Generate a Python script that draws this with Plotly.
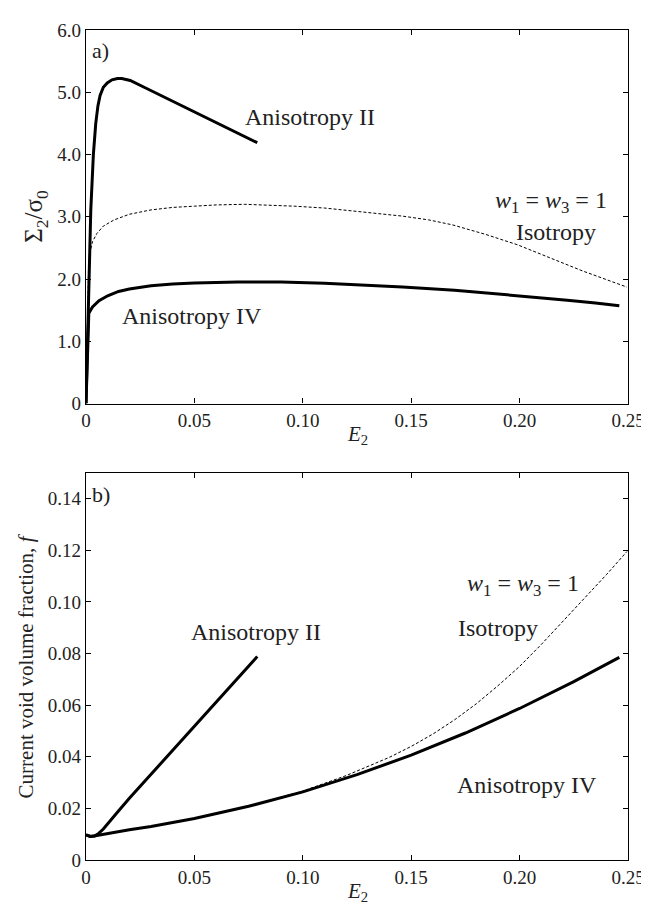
import plotly.graph_objects as go

# ---- a) normalised stress vs strain ----
e2_aniso2_a = [0, 0.0006, 0.0012, 0.0022, 0.0034, 0.0045, 0.0055, 0.0065, 0.008, 0.0098,
               0.012, 0.0145, 0.0165, 0.0204, 0.028, 0.0356, 0.0431, 0.0507, 0.0583,
               0.0658, 0.0734, 0.079]
s2_aniso2_a = [0, 1.0, 2.0, 3.1, 4.0, 4.5, 4.78, 4.95, 5.08, 5.15,
               5.2, 5.22, 5.22, 5.19, 5.06, 4.93, 4.80, 4.67, 4.54,
               4.41, 4.28, 4.19]

e2_iso_a = [0, 0.0007, 0.0012, 0.002, 0.003, 0.005, 0.008, 0.013, 0.02, 0.03, 0.04,
            0.05, 0.06, 0.073, 0.085, 0.096, 0.11, 0.125, 0.137, 0.146, 0.158, 0.169,
            0.184, 0.199, 0.214, 0.229, 0.2495]
s2_iso_a = [0, 1.7, 2.25, 2.45, 2.6, 2.73, 2.85, 2.95, 3.04, 3.11, 3.15,
            3.17, 3.19, 3.20, 3.19, 3.17, 3.14, 3.09, 3.05, 3.01, 2.95, 2.87,
            2.72, 2.55, 2.34, 2.13, 1.87]

e2_aniso4_a = [0, 0.0006, 0.0013, 0.003, 0.006, 0.01, 0.015, 0.02, 0.03, 0.04, 0.05,
               0.07, 0.09, 0.11, 0.13, 0.146, 0.17, 0.191, 0.208, 0.222, 0.235, 0.246]
s2_aniso4_a = [0, 0.8, 1.45, 1.55, 1.65, 1.73, 1.80, 1.84, 1.89, 1.92, 1.935,
               1.95, 1.95, 1.93, 1.90, 1.87, 1.82, 1.76, 1.71, 1.66, 1.615, 1.57]

# ---- b) void volume fraction vs strain ----
e2_aniso2_b = [0, 0.002, 0.004, 0.006, 0.008, 0.01, 0.014, 0.02, 0.03, 0.04, 0.05,
               0.06, 0.07, 0.079]
f_aniso2_b = [0.0097, 0.0091, 0.0093, 0.0104, 0.012, 0.0139, 0.018, 0.0239, 0.0332,
              0.0425, 0.0518, 0.0611, 0.0704, 0.0788]

e2_aniso4_b = [0, 0.002, 0.005, 0.01, 0.02, 0.03, 0.05, 0.075, 0.1, 0.125, 0.15,
               0.175, 0.2, 0.225, 0.246]
f_aniso4_b = [0.0097, 0.0091, 0.0095, 0.0103, 0.0117, 0.013, 0.0161, 0.0208, 0.0264,
              0.0331, 0.0406, 0.0492, 0.0587, 0.0691, 0.0785]

e2_iso_b = [0, 0.002, 0.005, 0.01, 0.02, 0.03, 0.05, 0.075, 0.1, 0.12, 0.14, 0.15,
            0.16, 0.17, 0.18, 0.19, 0.2, 0.21, 0.22, 0.23, 0.24, 0.2495]
f_iso_b = [0.0097, 0.0091, 0.0095, 0.0103, 0.0117, 0.013, 0.0161, 0.0208, 0.0267,
           0.0327, 0.0398, 0.044, 0.0488, 0.0543, 0.0605, 0.0675, 0.075, 0.0835,
           0.0925, 0.1015, 0.1105, 0.1195]

x_ticks = [0, 0.05, 0.10, 0.15, 0.20, 0.25]
x_labels = ["0", "0.05", "0.10", "0.15", "0.20", "0.25"]
ya_ticks = [0, 1, 2, 3, 4, 5, 6]
ya_labels = ["0", "1.0", "2.0", "3.0", "4.0", "5.0", "6.0"]
yb_ticks = [0, 0.02, 0.04, 0.06, 0.08, 0.10, 0.12, 0.14]
yb_labels = ["0", "0.02", "0.04", "0.06", "0.08", "0.10", "0.12", "0.14"]

FONT = "Liberation Serif"
solid = dict(color="black", width=3)
dashed = dict(color="black", width=1, dash="3px,2px")

fig = go.Figure()
fig.add_trace(go.Scatter(x=e2_aniso2_a, y=s2_aniso2_a, mode="lines", line=solid, xaxis="x", yaxis="y"))
fig.add_trace(go.Scatter(x=e2_iso_a, y=s2_iso_a, mode="lines", line=dashed, xaxis="x", yaxis="y"))
fig.add_trace(go.Scatter(x=e2_aniso4_a, y=s2_aniso4_a, mode="lines", line=solid, xaxis="x", yaxis="y"))
fig.add_trace(go.Scatter(x=e2_aniso2_b, y=f_aniso2_b, mode="lines", line=solid, xaxis="x2", yaxis="y2"))
fig.add_trace(go.Scatter(x=e2_iso_b, y=f_iso_b, mode="lines", line=dashed, xaxis="x2", yaxis="y2"))
fig.add_trace(go.Scatter(x=e2_aniso4_b, y=f_aniso4_b, mode="lines", line=solid, xaxis="x2", yaxis="y2"))

axis_common = dict(showgrid=False, zeroline=False, showline=True, linecolor="black",
                   linewidth=1.3, mirror="ticks", ticks="inside", ticklen=5,
                   tickcolor="black", tickfont=dict(family=FONT, size=19, color="#222"))

fig.update_layout(
    width=649, height=909,
    margin=dict(l=78, r=20, t=13, b=57),
    paper_bgcolor="white", plot_bgcolor="white",
    showlegend=False,
    xaxis=dict(axis_common, domain=[0, 1], range=[0, 0.25], tickvals=x_ticks, ticktext=x_labels, anchor="y"),
    yaxis=dict(axis_common, domain=[0.5500, 1], range=[0, 6], tickvals=ya_ticks, ticktext=ya_labels, anchor="x"),
    xaxis2=dict(axis_common, domain=[0, 1], range=[0, 0.25], tickvals=x_ticks, ticktext=x_labels, anchor="y2"),
    yaxis2=dict(axis_common, domain=[0, 0.4665], range=[0, 0.15], tickvals=yb_ticks, ticktext=yb_labels, anchor="x2"),
)

txt = dict(family=FONT, size=24, color="#222")
notes = [
    # panel a
    dict(x=0.002, y=5.67, xref="x", yref="y", text="a)", xanchor="left", font=dict(family=FONT, size=22, color="#222")),
    dict(x=0.0723, y=4.61, xref="x", yref="y", text="Anisotropy II", xanchor="left"),
    dict(x=0.0159, y=1.41, xref="x", yref="y", text="Anisotropy IV", xanchor="left"),
    dict(x=0.2412, y=3.24, xref="x", yref="y", text="<i>w</i><sub>1</sub> = <i>w</i><sub>3</sub> = 1", xanchor="right"),
    dict(x=0.2166, y=2.76, xref="x", yref="y", text="Isotropy", xanchor="center"),
    # panel b
    dict(x=0.002, y=0.1415, xref="x2", yref="y2", text="b)", xanchor="left", font=dict(family=FONT, size=22, color="#222")),
    dict(x=0.0476, y=0.0882, xref="x2", yref="y2", text="Anisotropy II", xanchor="left"),
    dict(x=0.2284, y=0.1065, xref="x2", yref="y2", text="<i>w</i><sub>1</sub> = <i>w</i><sub>3</sub> = 1", xanchor="right"),
    dict(x=0.190, y=0.090, xref="x2", yref="y2", text="Isotropy", xanchor="center"),
    dict(x=0.170, y=0.029, xref="x2", yref="y2", text="Anisotropy IV", xanchor="left"),
]
for n in notes:
    n.setdefault("font", txt)
    fig.add_annotation(showarrow=False, yanchor="middle", **n)

# axis titles
title_font = dict(family=FONT, size=21, color="#222")
for xr, yr in [("x domain", "y domain"), ("x2 domain", "y2 domain")]:
    fig.add_annotation(x=0.5, y=0, xref=xr, yref=yr, yshift=-17, showarrow=False,
                       text="<i>E</i><sub>2</sub>", font=title_font,
                       xanchor="center", yanchor="top")
fig.add_annotation(x=0, y=0.5, xref="x domain", yref="y domain", xshift=-50, showarrow=False,
                   text="Σ<sub>2</sub>/σ<sub>0</sub>", textangle=-90, xanchor="center", yanchor="middle",
                   font=dict(family=FONT, size=25, color="#222"))
fig.add_annotation(x=0, y=0.5, xref="x2 domain", yref="y2 domain", xshift=-60, showarrow=False,
                   text="Current void volume fraction, <i>f</i>", textangle=-90,
                   xanchor="center", yanchor="middle", font=title_font)

fig.write_html("out.html")
